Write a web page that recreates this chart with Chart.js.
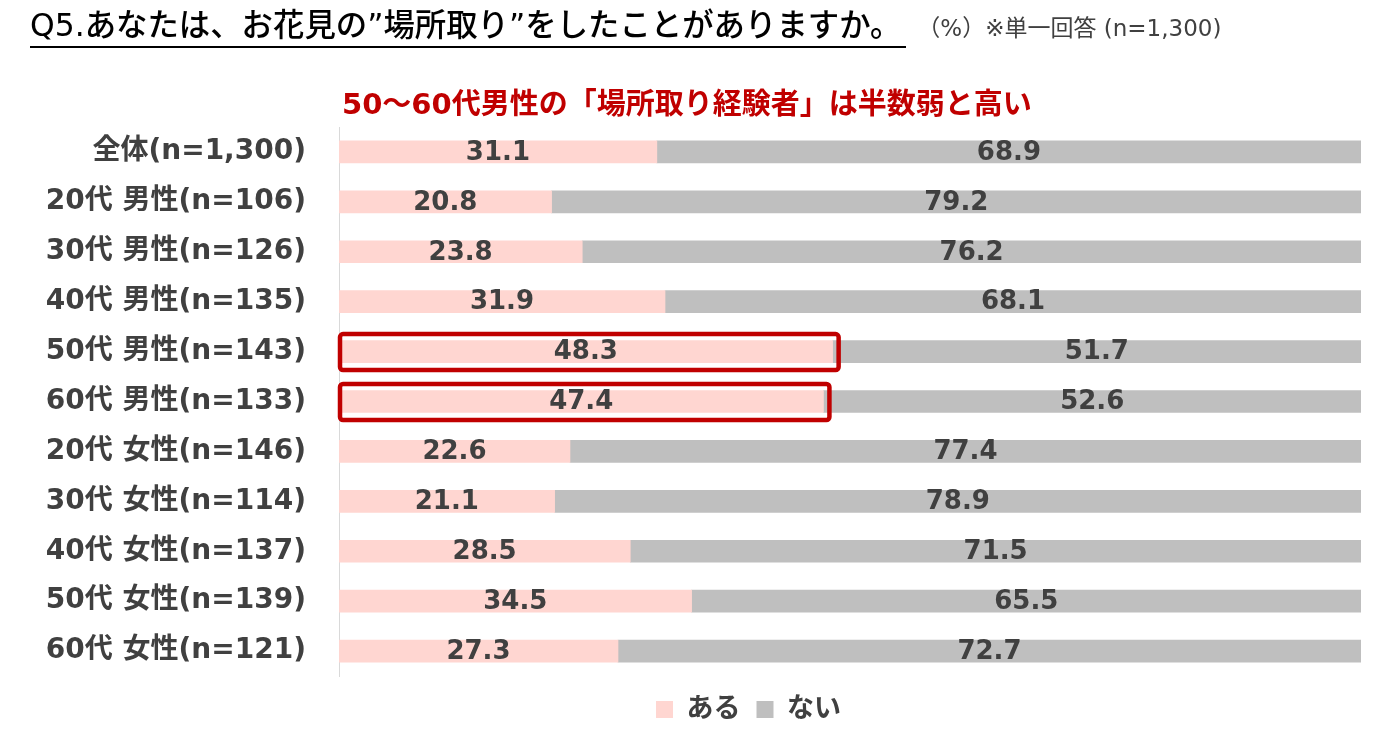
<!DOCTYPE html>
<html lang="ja">
<head>
<meta charset="utf-8">
<script src="https://cdn.jsdelivr.net/npm/chart.js@4.4.1/dist/chart.umd.min.js"></script>
<style>
  html,body{margin:0;padding:0;background:#fff;}
  body{width:1400px;height:736px;position:relative;overflow:hidden;font-family:"DejaVu Sans","Noto Sans CJK JP",sans-serif;}
  #title{position:absolute;left:30px;top:5px;white-space:nowrap;}
  #title .q{font-family:"DejaVu Sans","Noto Sans CJK JP",sans-serif;font-size:31.4px;color:#000;font-weight:500;display:inline-block;border-bottom:2px solid #000;padding-right:5px;line-height:41px;}
  #title .n{font-size:23px;color:#404040;margin-left:11px;font-weight:400;}
  #sub{position:absolute;left:342px;top:80px;font-size:29px;font-weight:700;color:#c00000;white-space:nowrap;font-family:"DejaVu Sans","Noto Sans CJK JP",sans-serif;}
  #wrap{position:absolute;left:0;top:0;width:1400px;height:736px;}
</style>
</head>
<body>
<div id="wrap"><canvas id="c" width="1400" height="736"></canvas></div>
<div id="title"><span class="q">Q5.あなたは、お花見の”場所取り”をしたことがありますか。</span><span class="n">（%）※単一回答 (n=1,300)</span></div>
<div id="sub">50～60代男性の「場所取り経験者」は半数弱と高い</div>
<script>
const categories = ["全体(n=1,300)","20代 男性(n=106)","30代 男性(n=126)","40代 男性(n=135)","50代 男性(n=143)","60代 男性(n=133)","20代 女性(n=146)","30代 女性(n=114)","40代 女性(n=137)","50代 女性(n=139)","60代 女性(n=121)"];
const seriesNames = ["ある","ない"];
const aruValues = [31.1,20.8,23.8,31.9,48.3,47.4,22.6,21.1,28.5,34.5,27.3];
const naiValues = [68.9,79.2,76.2,68.1,51.7,52.6,77.4,78.9,71.5,65.5,72.7];
const highlighted = [4,5];
const FONT = '"DejaVu Sans", "Noto Sans CJK JP", sans-serif';

const legendShift = {
  id:'legendShift',
  afterLayout(chart){
    const lg = chart.legend;
    if (!lg) return;
    lg.left += 68; lg.right += 68;
    lg.top += 4; lg.bottom += 4;
  }
};

const labelPlugin = {
  id:'valueLabels',
  afterDatasetsDraw(chart){
    const ctx = chart.ctx;
    ctx.save();
    ctx.font = 'bold 26px ' + FONT;
    ctx.fillStyle = '#404040';
    ctx.textAlign = 'center';
    ctx.textBaseline = 'middle';
    chart.data.datasets.forEach((ds,di)=>{
      const meta = chart.getDatasetMeta(di);
      meta.data.forEach((el,i)=>{
        const p = el.getProps(['x','y','base'],true);
        ctx.fillText(ds.data[i].toFixed(1),(p.x+p.base)/2,p.y+1);
      });
    });
    const xs = chart.scales.x, ys = chart.scales.y;
    ctx.strokeStyle = '#c00000';
    ctx.lineWidth = 4.5;
    highlighted.forEach(i=>{
      const x0 = xs.getPixelForValue(0);
      const x1 = xs.getPixelForValue(aruValues[i]) + 6;
      const yc = ys.getPixelForValue(i);
      ctx.beginPath();
      if (ctx.roundRect) ctx.roundRect(x0+1, yc-17.5, x1-x0-1, 36, 3); else ctx.rect(x0+1, yc-17.5, x1-x0-1, 36);
      ctx.stroke();
    });
    ctx.restore();
  }
};

new Chart(document.getElementById('c'),{
  type:'bar',
  data:{
    labels:categories,
    datasets:[
      {label:seriesNames[0],data:aruValues,backgroundColor:'#ffd6d1',barThickness:22},
      {label:seriesNames[1],data:naiValues,backgroundColor:'#bfbfbf',barThickness:22}
    ]
  },
  options:{
    indexAxis:'y',
    responsive:false,
    animation:false,
    devicePixelRatio:1,
    layout:{padding:{top:127,right:39,bottom:7,left:0}},
    scales:{
      x:{stacked:true,min:0,max:100,display:false},
      y:{stacked:true,
         grid:{display:false,drawTicks:false},
         border:{display:true,color:'#d9d9d9',width:1},
         ticks:{color:'#404040',font:{family:FONT,size:28,weight:'bold'},padding:33},
         afterFit(s){s.width=339;}
      }
    },
    plugins:{
      legend:{position:'bottom',labels:{color:'#404040',font:{family:FONT,size:27,weight:'bold'},boxWidth:17,boxHeight:17,padding:16}},
      tooltip:{enabled:false},
      title:{display:false}
    }
  },
  plugins:[legendShift,labelPlugin]
});
</script>
</body>
</html>
